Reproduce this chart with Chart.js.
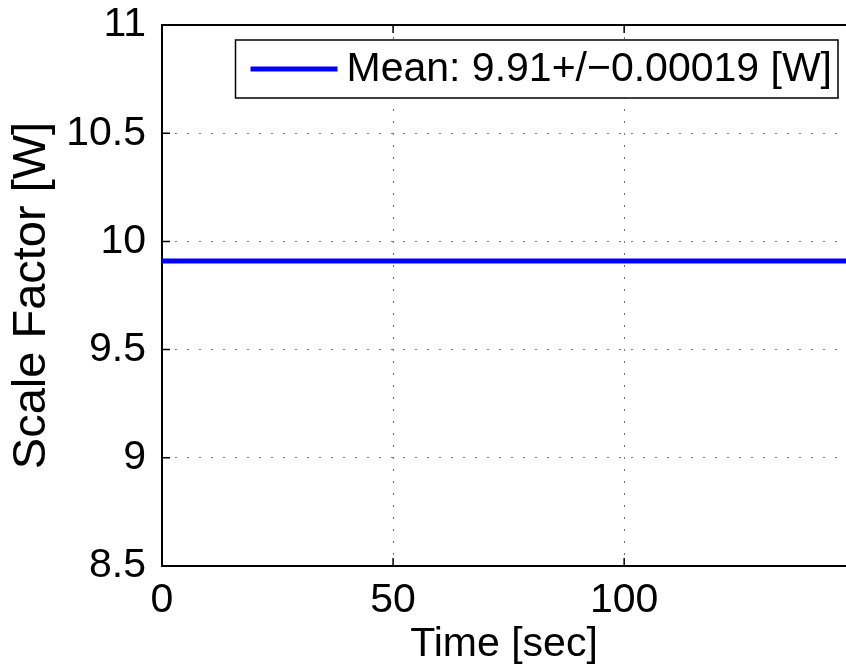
<!DOCTYPE html>
<html>
<head>
<meta charset="utf-8">
<script src="https://cdnjs.cloudflare.com/ajax/libs/Chart.js/4.4.1/chart.umd.min.js"></script>
<style>
  html,body{margin:0;padding:0;background:#fff;overflow:hidden}
  #wrap{width:846px;height:665px}
</style>
</head>
<body>
<div id="wrap"><canvas id="chart" width="846" height="665"></canvas></div>
<script>
// Scale factor estimate over time: flat at its mean for the whole run.
const TIME  = [0, 148];          // sec
const SCALE = [9.91, 9.91];      // W
const X_RANGE = [0, 148];
const Y_RANGE = [8.5, 11];
const X_TICKS = [0, 50, 100];
const Y_TICKS = [8.5, 9, 9.5, 10, 10.5, 11];
const Y_TICK_LABELS = ['8.5', '9', '9.5', '10', '10.5', '11'];
const SERIES_LABEL = 'Mean: 9.91+/\u22120.00019 [W]';
const X_TITLE = 'Time [sec]';
const Y_TITLE = 'Scale Factor [W]';

const FONT = '"Liberation Sans", Arial, Helvetica, sans-serif';
const BLUE = '#0000ff';

// MATLAB-style ticks pointing into the axes box
const inwardTicks = {
  id:'inwardTicks',
  afterDatasetsDraw(chart){
    const {ctx, chartArea:a, scales:{x,y}} = chart;
    const len = 8;
    ctx.save(); ctx.strokeStyle='#000'; ctx.lineWidth=1.5; ctx.beginPath();
    x.ticks.forEach(t=>{
      const px = x.getPixelForValue(t.value);
      ctx.moveTo(px,a.bottom); ctx.lineTo(px,a.bottom-len);
      ctx.moveTo(px,a.top);    ctx.lineTo(px,a.top+len);
    });
    y.ticks.forEach(t=>{
      const py = y.getPixelForValue(t.value);
      ctx.moveTo(a.left,py); ctx.lineTo(a.left+len,py);
    });
    ctx.stroke(); ctx.restore();
  }
};

// legend box sitting inside the plot, top right
const boxLegend = {
  id:'boxLegend',
  afterDraw(chart){
    const {ctx, chartArea:a} = chart;
    const ds = chart.data.datasets[0];
    ctx.save();
    ctx.font = `41px ${FONT}`;
    const tw = ctx.measureText(ds.label).width;
    const padL=15, lineLen=87, gap=9, padR=6, h=58;
    const w = padL+lineLen+gap+tw+padR;
    const x0 = a.right-8-w, y0 = a.top+15;
    ctx.fillStyle='#fff'; ctx.fillRect(x0,y0,w,h);
    ctx.strokeStyle='#000'; ctx.lineWidth=1.5; ctx.strokeRect(x0,y0,w,h);
    const cy = y0+h/2;
    ctx.strokeStyle=ds.borderColor; ctx.lineWidth=ds.borderWidth;
    ctx.beginPath(); ctx.moveTo(x0+padL,cy); ctx.lineTo(x0+padL+lineLen,cy); ctx.stroke();
    ctx.fillStyle='#000'; ctx.textBaseline='middle'; ctx.textAlign='left';
    ctx.fillText(ds.label, x0+padL+lineLen+gap, cy+1);
    ctx.restore();
  }
};

const tickFont = {family:FONT, size:41};
const gridStyle = {color:'#777', lineWidth:1, drawTicks:false};
const borderStyle = {display:true, color:'#000', width:2, dash:[2,10]};
const setTicks = vals => s => { s.ticks = vals.map(v=>({value:v})); };

new Chart(document.getElementById('chart'), {
  type:'line',
  data:{
    datasets:[{
      label:SERIES_LABEL,
      data:TIME.map((t,i)=>({x:t, y:SCALE[i]})),
      borderColor:BLUE, backgroundColor:BLUE, borderWidth:5,
      pointRadius:0, tension:0, fill:false,
    }]
  },
  options:{
    responsive:false, animation:false, events:[],
    layout:{padding:0},
    plugins:{legend:{display:false}, tooltip:{enabled:false}},
    scales:{
      x:{
        type:'linear', position:'bottom', min:X_RANGE[0], max:X_RANGE[1],
        afterBuildTicks:setTicks(X_TICKS),
        afterFit:s=>{ s.height=99; s.paddingLeft=0; s.paddingRight=0; },
        ticks:{font:tickFont, color:'#000', padding:10, maxRotation:0, autoSkip:false,
               callback:v=>String(v)},
        grid:gridStyle, border:borderStyle,
        title:{display:true, text:X_TITLE, font:tickFont, color:'#000', padding:{top:0,bottom:-4}},
      },
      xTop:{
        type:'linear', position:'top', min:X_RANGE[0], max:X_RANGE[1],
        afterBuildTicks:setTicks(X_TICKS),
        afterFit:s=>{ s.height=25; s.paddingLeft=0; s.paddingRight=0; },
        ticks:{display:false},
        grid:{drawOnChartArea:false, drawTicks:false},
        border:{display:true, color:'#000', width:2},
      },
      y:{
        type:'linear', position:'left', min:Y_RANGE[0], max:Y_RANGE[1],
        afterBuildTicks:setTicks(Y_TICKS),
        afterFit:s=>{ s.width=162; s.paddingTop=0; s.paddingBottom=0; },
        ticks:{font:tickFont, color:'#000', padding:16, autoSkip:false,
               callback:v=>Y_TICK_LABELS[Y_TICKS.indexOf(v)]},
        grid:gridStyle, border:borderStyle,
        title:{display:true, text:Y_TITLE, font:{family:FONT, size:47}, color:'#000', padding:{top:4,bottom:0}},
      },
    },
  },
  plugins:[inwardTicks, boxLegend],
});
</script>
</body>
</html>
